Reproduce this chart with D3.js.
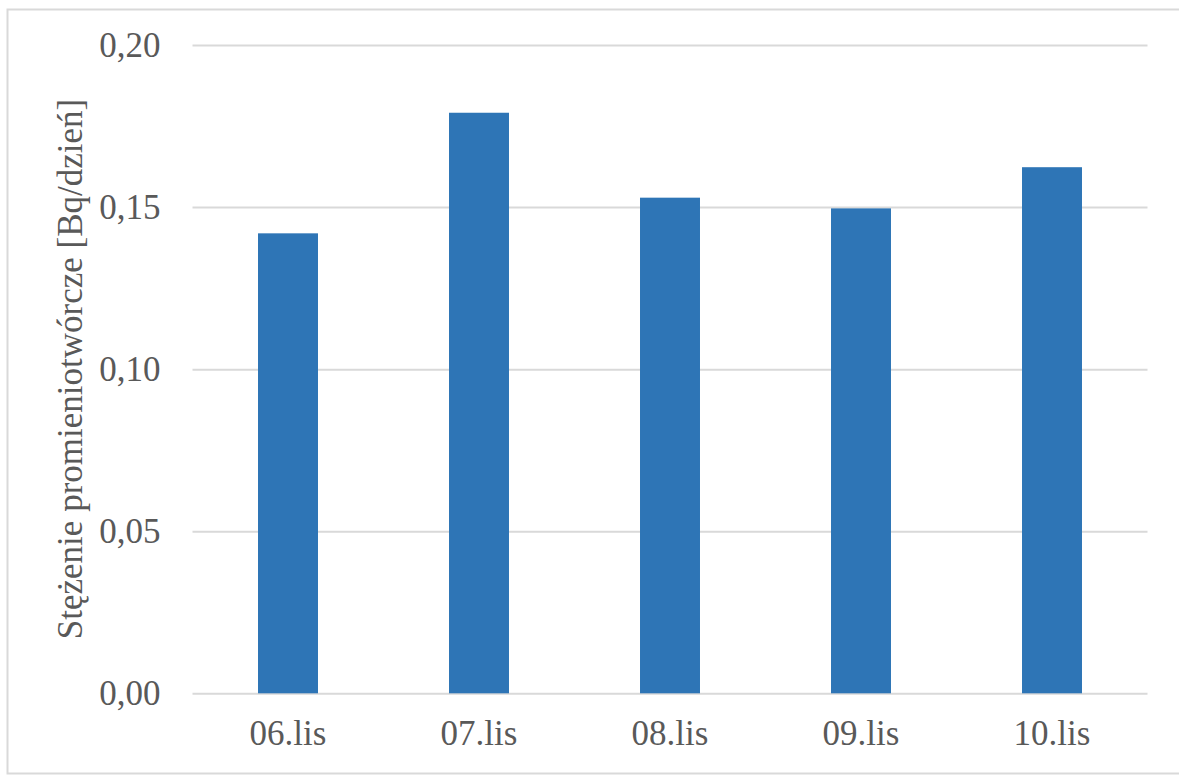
<!DOCTYPE html>
<html><head><meta charset="utf-8">
<script src="https://cdn.jsdelivr.net/npm/d3@7"></script>
<style>html,body{margin:0;padding:0;background:#fff;}svg{display:block;}</style>
</head><body>
<script>
const categories = ["06.lis", "07.lis", "08.lis", "09.lis", "10.lis"];
const values = [0.1419, 0.1791, 0.1529, 0.1496, 0.1623];
const yTicks = [0, 0.05, 0.10, 0.15, 0.20];
const yTitle = "Stężenie promieniotwórcze [Bq/dzień]";

(function () {
const W = 1179, H = 775;
const svg = d3.select("body").append("svg").attr("width", W).attr("height", H);

svg.append("rect").attr("x", 7.5).attr("y", 9.5).attr("width", 1200).attr("height", 764)
  .attr("fill", "#fff").attr("stroke", "#d9d9d9").attr("stroke-width", 2);

const mLeft = 192.5, mRight = 1147.5, mTop = 45, mBottom = 693.3;
const x = d3.scaleBand().domain(categories).range([mLeft, mRight]).paddingInner(0.686).paddingOuter(0.343);
const y = d3.scaleLinear().domain([0, 0.2]).range([mBottom, mTop]);

const font = "'Times New Roman', 'Liberation Serif', serif";
const fs = "35px";
const fmt = d => d3.format(".2f")(d).replace(".", ",");

const yAxis = svg.append("g").attr("transform", `translate(${mLeft},0)`)
  .call(d3.axisLeft(y).tickValues(yTicks).tickSize(-(mRight - mLeft)).tickPadding(32).tickFormat(fmt));
yAxis.select(".domain").remove();
yAxis.selectAll(".tick line").attr("stroke", "#d9d9d9").attr("stroke-width", 2);
yAxis.selectAll(".tick text").attr("fill", "#595959").style("font-family", font).style("font-size", fs).attr("dy", "0.33em");

svg.append("g").selectAll("rect").data(values).join("rect")
  .attr("x", (d, i) => x(categories[i]))
  .attr("width", x.bandwidth())
  .attr("y", d => y(d))
  .attr("height", d => y(0) - y(d))
  .attr("fill", "#2e75b6");

const xAxis = svg.append("g").attr("transform", `translate(0,${mBottom})`)
  .call(d3.axisBottom(x).tickSize(0).tickPadding(0));
xAxis.select(".domain").remove();
xAxis.selectAll(".tick text").attr("fill", "#595959").style("font-family", font).style("font-size", fs)
  .attr("y", 52).attr("dy", 0);

svg.append("text").attr("transform", `translate(82,${(95 + 643) / 2}) rotate(-90)`)
  .attr("text-anchor", "middle").attr("fill", "#595959")
  .style("font-family", font).style("font-size", fs).text(yTitle);
})();
</script>
</body></html>
